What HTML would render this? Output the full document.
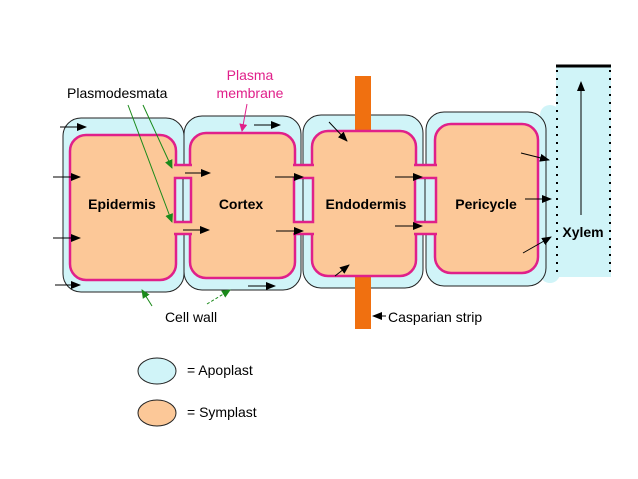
<!DOCTYPE html>
<html><head><meta charset="utf-8"><style>body{margin:0;background:#fff}svg{display:block}text{font-family:"Liberation Sans",sans-serif}</style></head><body>
<svg width="638" height="479" viewBox="0 0 638 479" xmlns="http://www.w3.org/2000/svg">
<defs>
<marker id="a" markerWidth="10" markerHeight="8" refX="9" refY="4" orient="auto" markerUnits="userSpaceOnUse"><path d="M0,0 L10,4 L0,8 Z" fill="#000"/></marker>
<marker id="g" markerWidth="9" markerHeight="8" refX="8" refY="4" orient="auto" markerUnits="userSpaceOnUse"><path d="M0,0 L9,4 L0,8 Z" fill="#1a8a1a"/></marker>
<marker id="p" markerWidth="8" markerHeight="8" refX="7" refY="4" orient="auto" markerUnits="userSpaceOnUse"><path d="M0,0 L8,4 L0,8 Z" fill="#e0208a"/></marker>
</defs>
<rect x="540" y="105" width="20" height="178" rx="10" fill="#d0f4f8"/>
<rect x="556" y="65" width="55" height="212" fill="#d0f4f8"/>
<line x1="556" y1="66" x2="611" y2="66" stroke="#000" stroke-width="3"/>
<line x1="557" y1="70" x2="557" y2="277" stroke="#000" stroke-width="2" stroke-dasharray="2,6"/>
<line x1="610" y1="70" x2="610" y2="277" stroke="#000" stroke-width="2" stroke-dasharray="2,6"/>
<line x1="581" y1="215" x2="581" y2="82" stroke="#000" stroke-width="1" marker-end="url(#a)"/>
<text x="583" y="237" font-size="14" font-weight="bold" text-anchor="middle">Xylem</text>
<g fill="#d0f4f8" stroke="#222" stroke-width="1">
<rect x="63" y="118" width="121" height="174" rx="18"/>
<rect x="184" y="116" width="117" height="174" rx="18"/>
<rect x="303" y="115" width="120" height="173" rx="18"/>
<rect x="426" y="112" width="120" height="174" rx="18"/>
</g>
<rect x="355" y="76" width="16" height="253" fill="#f07010"/>
<g fill="#fcc898" stroke="#e0208a" stroke-width="2.5">
<rect x="70" y="135" width="106" height="145" rx="16"/>
<rect x="190" y="133" width="105" height="145" rx="16"/>
<rect x="312" y="131" width="104" height="145" rx="16"/>
<rect x="435" y="124" width="103" height="149" rx="16"/>
</g>
<g>
<rect x="174" y="166" width="18" height="67" fill="#fcc898"/>
<rect x="293" y="166" width="21" height="67" fill="#fcc898"/>
<rect x="414" y="166" width="23" height="67" fill="#fcc898"/>
</g>
<g stroke="#e0208a" stroke-width="2.5" fill="#d0f4f8">
<line x1="174" y1="165" x2="192" y2="165"/><line x1="174" y1="234" x2="192" y2="234"/>
<line x1="293" y1="165" x2="314" y2="165"/><line x1="293" y1="234" x2="314" y2="234"/>
<line x1="414" y1="165" x2="437" y2="165"/><line x1="414" y1="234" x2="437" y2="234"/>
<rect x="175" y="178" width="16" height="44"/>
<rect x="294" y="178" width="19" height="44"/>
<rect x="415" y="178" width="21" height="44"/>
</g>
<g stroke="#222" stroke-width="1">
<line x1="183" y1="179" x2="183" y2="221"/><line x1="303" y1="179" x2="303" y2="221"/><line x1="425" y1="179" x2="425" y2="221"/>
</g>
<g font-size="14" font-weight="bold" text-anchor="middle">
<text x="122" y="209">Epidermis</text>
<text x="241" y="209">Cortex</text>
<text x="366" y="209">Endodermis</text>
<text x="486" y="209">Pericycle</text>
</g>
<text x="67" y="98" font-size="14">Plasmodesmata</text>
<text x="250" y="80" font-size="14" fill="#e0208a" text-anchor="middle">Plasma</text>
<text x="250" y="98" font-size="14" fill="#e0208a" text-anchor="middle">membrane</text>
<text x="191" y="322" font-size="14" text-anchor="middle">Cell wall</text>
<text x="388" y="322" font-size="14">Casparian strip</text>
<g stroke="#1a8a1a" stroke-width="1" fill="none">
<line x1="128" y1="105" x2="172" y2="222" marker-end="url(#g)"/>
<line x1="143" y1="105" x2="172" y2="168" marker-end="url(#g)"/>
<line x1="152" y1="306" x2="142" y2="290" marker-end="url(#g)"/>
<line x1="207" y1="304" x2="230" y2="290" marker-end="url(#g)" stroke-dasharray="3,2"/>
</g>
<line x1="247" y1="104" x2="242" y2="131" stroke="#e0208a" stroke-width="1" marker-end="url(#p)"/>
<g stroke="#000" stroke-width="1" fill="none" marker-end="url(#a)">
<line x1="60" y1="127" x2="86" y2="127"/>
<line x1="53" y1="177" x2="80" y2="177"/>
<line x1="53" y1="238" x2="80" y2="238"/>
<line x1="55" y1="285" x2="80" y2="285"/>
<line x1="254" y1="125" x2="280" y2="125"/>
<line x1="248" y1="286" x2="275" y2="286"/>
<line x1="185" y1="173" x2="210" y2="173"/>
<line x1="183" y1="230" x2="209" y2="230"/>
<line x1="275" y1="177" x2="303" y2="177"/>
<line x1="276" y1="231" x2="303" y2="231"/>
<line x1="329" y1="122" x2="347" y2="141"/>
<line x1="335" y1="276" x2="349" y2="265"/>
<line x1="395" y1="177" x2="422" y2="177"/>
<line x1="395" y1="226" x2="422" y2="226"/>
<line x1="521" y1="153" x2="549" y2="160"/>
<line x1="525" y1="199" x2="551" y2="199"/>
<line x1="523" y1="253" x2="551" y2="237"/>
<line x1="386" y1="316" x2="373" y2="316"/>
</g>
<ellipse cx="157" cy="371" rx="19" ry="13" fill="#d0f4f8" stroke="#222"/>
<ellipse cx="157" cy="413" rx="19" ry="13" fill="#fcc898" stroke="#222"/>
<text x="187" y="375" font-size="14">= Apoplast</text>
<text x="187" y="417" font-size="14">= Symplast</text>
</svg>
</body></html>
